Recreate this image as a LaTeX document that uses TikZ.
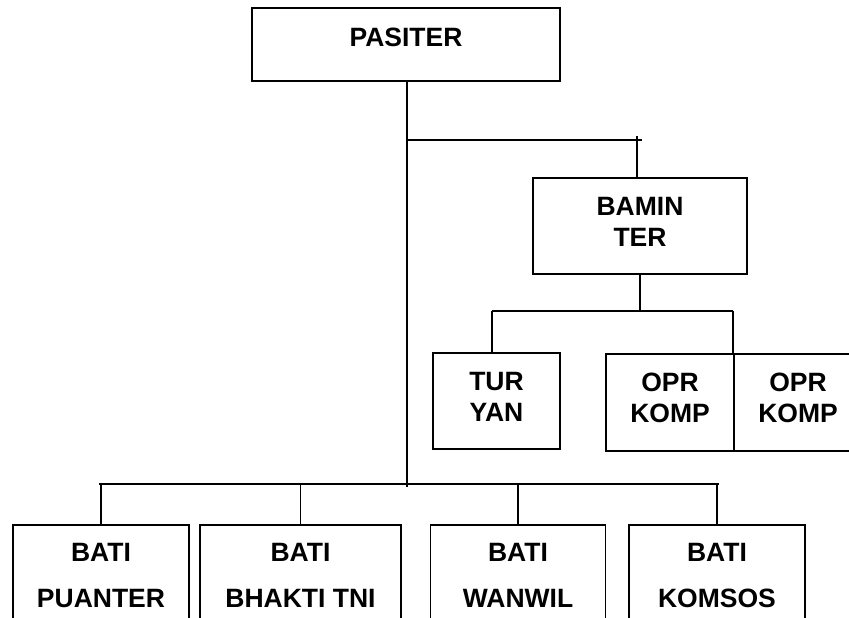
\documentclass[tikz,border=0pt]{standalone}
\usepackage{fontspec}
\setmainfont{Liberation Sans}
\tikzset{
  unit/.style={draw, inner sep=0pt, align=center,
    font=\bfseries\fontsize{26.5}{31}\selectfont},
  chief/.style={unit, minimum width=308pt, minimum height=73pt,
    text height=18.6pt, text depth=15pt},
  staff/.style={unit, text depth=9pt},
  bati/.style={unit, minimum height=190pt,
    font=\bfseries\fontsize{26.5}{46}\selectfont, text depth=90pt}
}
\begin{document}
\begin{tikzpicture}[x=1pt, y=-1pt, line width=1.8pt]
      \useasboundingbox (0,0) rectangle (849,618);
      \clip (0,0) rectangle (849,618);
      \draw
        (406,44.5) node[chief] (pasiter){PASITER}
        (640,226) node[staff, minimum width=214pt, minimum height=96pt] (bamin){BAMIN\\TER}
        (496.5,401) node[staff, minimum width=127pt, minimum height=96pt] (turyan){TUR\\YAN}
        (670,402.5) node[staff, minimum width=128pt, minimum height=97pt] (opr1){OPR\\KOMP}
        (798,402.5) node[staff, minimum width=128pt, minimum height=97pt] (opr2){OPR\\KOMP}
        (101,620) node[bati, minimum width=176pt] (puanter){BATI\\PUANTER}
        (300.5,620) node[bati, minimum width=201pt] (bhakti){BATI\\BHAKTI TNI}
        (518,620) node[bati, minimum width=175pt] (wanwil){BATI\\WANWIL}
        (717,620) node[bati, minimum width=176pt] (komsos){BATI\\KOMSOS};
      \coordinate (trunk) at (407,487);
      \coordinate (upper) at (642,140);
      \coordinate (tick) at (637,136);
      \coordinate (staffl) at (492,311);
      \coordinate (staffr) at (733,311);
      \coordinate (batil) at (99,484);
      \coordinate (batir) at (719,484);
      \begin{scope}[-]
        \draw (trunk |- pasiter.south) to (trunk);
        \draw (trunk |- upper) to (upper);
        \draw (tick) to (tick |- bamin.north);
        \draw (bamin.south) to (bamin.south |- staffl);
        \draw (staffl) to (staffr);
        \draw (staffl) to (staffl |- turyan.north);
        \draw (staffr) to (staffr |- opr1.north);
        \draw (batil) to (batir);
        \draw (puanter.north |- batil) to (puanter.north);
        \draw (bhakti.north |- batil) to (bhakti.north);
        \draw (wanwil.north |- batil) to (wanwil.north);
        \draw (komsos.north |- batil) to (komsos.north);
      \end{scope}
    \end{tikzpicture}
\end{document}
